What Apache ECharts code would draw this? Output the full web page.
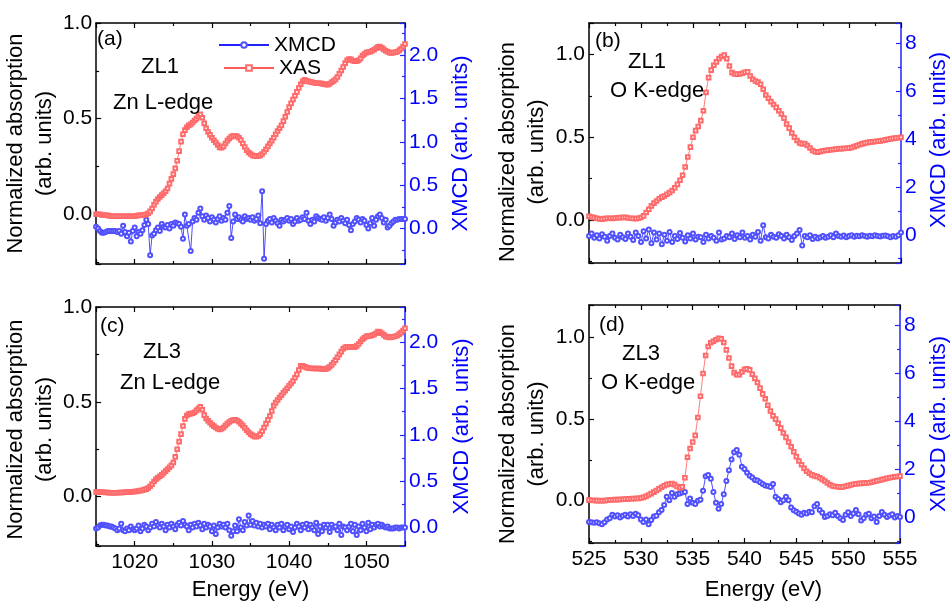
<!DOCTYPE html>
<html>
<head>
<meta charset="utf-8">
<script src="https://cdn.jsdelivr.net/npm/echarts@6/dist/echarts.min.js"></script>
<style>
html,body{margin:0;padding:0;background:#fff;}
#chart{width:951px;height:602px;}
</style>
</head>
<body>
<div id="chart"></div>
<script>
// ---------------- DATA ----------------
function range(a, b, s) { const r = []; const n = Math.round((b - a) / s); for (let i = 0; i <= n; i++) r.push(+(a + i * s).toFixed(2)); return r; }
const energyZn = range(1015, 1055, 0.25);
const energyO = range(525, 555, 0.25);

// (a) ZL1 Zn L-edge
const xasZL1Zn = [
 0.000, 0.000, 0.000, -0.003, -0.005, -0.005, -0.006, -0.008, -0.010, -0.010, -0.010, -0.010, -0.010, -0.010, -0.010, -0.010, -0.010, -0.010, -0.010, -0.010,
 -0.010, -0.008, -0.006, -0.005, -0.005, -0.003, 0.000, 0.005, 0.015, 0.030, 0.050, 0.066, 0.080, 0.090, 0.100, 0.110, 0.120, 0.135, 0.160, 0.185,
 0.210, 0.240, 0.280, 0.330, 0.380, 0.418, 0.440, 0.455, 0.465, 0.470, 0.480, 0.490, 0.500, 0.512, 0.523, 0.505, 0.475, 0.450, 0.430, 0.415,
 0.400, 0.387, 0.375, 0.362, 0.350, 0.348, 0.355, 0.370, 0.385, 0.396, 0.405, 0.410, 0.410, 0.407, 0.400, 0.388, 0.370, 0.352, 0.335, 0.323,
 0.315, 0.308, 0.305, 0.303, 0.305, 0.308, 0.315, 0.327, 0.340, 0.355, 0.370, 0.385, 0.400, 0.418, 0.435, 0.450, 0.465, 0.487, 0.510, 0.535,
 0.560, 0.580, 0.600, 0.620, 0.640, 0.660, 0.680, 0.695, 0.703, 0.698, 0.695, 0.692, 0.690, 0.688, 0.685, 0.685, 0.685, 0.683, 0.680, 0.679,
 0.678, 0.682, 0.690, 0.697, 0.705, 0.718, 0.735, 0.752, 0.770, 0.790, 0.805, 0.812, 0.810, 0.803, 0.800, 0.800, 0.805, 0.815, 0.830, 0.838,
 0.845, 0.848, 0.850, 0.855, 0.860, 0.868, 0.875, 0.877, 0.870, 0.862, 0.855, 0.850, 0.845, 0.844, 0.845, 0.847, 0.850, 0.857, 0.865, 0.877,
 0.890];
const xmcdZL1Zn = [
 0.02, 0.00, -0.03, -0.05, -0.05, -0.04, -0.03, -0.03, -0.03, -0.03, -0.03, -0.04, -0.03, -0.06, 0.03, -0.04, -0.09, -0.05, -0.15, -0.03,
 0.01, -0.09, -0.04, -0.06, -0.02, 0.04, 0.10, 0.05, -0.31, -0.08, -0.06, -0.02, 0.01, -0.03, 0.05, 0.02, 0.01, 0.04, 0.00, 0.05,
 0.03, 0.07, 0.06, 0.05, 0.02, -0.12, 0.16, 0.03, 0.05, -0.26, 0.08, 0.12, 0.10, 0.18, 0.23, 0.14, 0.10, 0.15, 0.12, 0.08,
 0.13, 0.10, 0.07, 0.11, 0.14, 0.09, 0.12, 0.10, 0.18, 0.26, -0.11, 0.08, 0.16, 0.11, 0.13, 0.10, 0.08, 0.14, 0.11, 0.12,
 0.10, 0.13, 0.09, 0.11, 0.15, 0.06, 0.43, -0.35, 0.05, 0.09, 0.11, 0.07, 0.12, 0.09, 0.06, 0.03, 0.10, 0.08, 0.10, 0.12,
 0.09, 0.11, 0.05, 0.08, 0.12, 0.09, 0.10, 0.13, 0.11, 0.18, 0.09, 0.05, 0.10, 0.08, 0.14, 0.12, 0.11, 0.10, 0.13, 0.09,
 0.12, 0.16, 0.11, 0.03, 0.07, 0.10, 0.08, 0.12, 0.09, 0.06, 0.10, 0.04, -0.02, 0.05, 0.08, 0.12, 0.10, 0.07, 0.11, 0.09,
 0.04, 0.00, 0.06, 0.12, 0.03, 0.10, 0.14, 0.16, 0.12, 0.07, 0.10, 0.01, 0.03, 0.06, 0.08, 0.10, 0.10, 0.11, 0.11, 0.11,
 0.11];

// (b) ZL1 O K-edge
const xasZL1O = [
 0.022, 0.018, 0.014, 0.010, 0.006, 0.005, 0.008, 0.010, 0.010, 0.009, 0.012, 0.013, 0.014, 0.015, 0.016, 0.012, 0.010, 0.009, 0.008, 0.010,
 0.015, 0.025, 0.045, 0.065, 0.085, 0.102, 0.115, 0.128, 0.138, 0.145, 0.155, 0.165, 0.178, 0.195, 0.215, 0.24, 0.27, 0.32, 0.38, 0.44,
 0.50, 0.54, 0.565, 0.60, 0.66, 0.77, 0.86, 0.905, 0.935, 0.955, 0.975, 0.988, 0.996, 0.975, 0.93, 0.89, 0.882, 0.88, 0.882, 0.886,
 0.892, 0.895, 0.87, 0.85, 0.84, 0.833, 0.82, 0.79, 0.755, 0.735, 0.715, 0.698, 0.68, 0.66, 0.64, 0.615, 0.58, 0.555, 0.525, 0.50,
 0.48, 0.465, 0.46, 0.462, 0.45, 0.435, 0.42, 0.412, 0.41, 0.414, 0.418, 0.42, 0.422, 0.424, 0.426, 0.428, 0.43, 0.431, 0.432, 0.433,
 0.434, 0.438, 0.443, 0.448, 0.454, 0.46, 0.464, 0.467, 0.47, 0.472, 0.474, 0.476, 0.478, 0.48, 0.484, 0.488, 0.49, 0.493, 0.495, 0.497,
 0.50];
const xmcdZL1O = [
 -0.05, 0.05, -0.12, -0.02, -0.15, 0.02, -0.08, -0.25, -0.05, 0.05, -0.12, -0.2, 0.0, -0.1, -0.18, 0.05, -0.08, -0.22, 0.1, -0.05,
 -0.3, 0.15, -0.15, 0.22, -0.35, 0.1, -0.2, 0.05, -0.4, 0.0, -0.25, 0.12, -0.3, -0.05, -0.18, 0.08, -0.12, -0.28, -0.02, -0.15,
 0.05, -0.2, -0.08, -0.1, -0.3, 0.0, -0.15, -0.05, -0.12, -0.25, 0.1, -0.2, -0.15, -0.05, -0.1, 0.05, -0.18, -0.02, -0.1, 0.1,
 -0.12, -0.05, -0.2, 0.0, -0.08, 0.12, -0.25, 0.4, -0.1, -0.15, 0.0, -0.08, -0.12, 0.02, -0.05, -0.15, 0.0, -0.1, -0.22, -0.05,
 0.05, 0.2, -0.45, -0.05, -0.1, -0.02, -0.18, -0.08, -0.15, -0.1, -0.05, -0.12, -0.08, -0.02, -0.1, 0.05, -0.05, -0.08, -0.03, -0.1,
 -0.05, -0.02, -0.08, -0.04, -0.06, -0.02, -0.05, -0.08, -0.04, -0.06, -0.02, -0.05, -0.07, -0.04, -0.03, -0.06, -0.1, -0.05, -0.08, -0.02,
 0.1];

// (c) ZL3 Zn L-edge
const xasZL3Zn = [
 0.025, 0.024, 0.024, 0.023, 0.023, 0.022, 0.022, 0.021, 0.021, 0.021, 0.021, 0.021, 0.022, 0.022, 0.022, 0.023, 0.024, 0.024, 0.025, 0.026,
 0.027, 0.028, 0.030, 0.032, 0.034, 0.037, 0.040, 0.046, 0.055, 0.066, 0.080, 0.092, 0.100, 0.108, 0.115, 0.125, 0.135, 0.145, 0.155, 0.165,
 0.180, 0.210, 0.250, 0.290, 0.330, 0.373, 0.410, 0.428, 0.435, 0.438, 0.440, 0.445, 0.455, 0.465, 0.474, 0.458, 0.430, 0.412, 0.400, 0.390,
 0.380, 0.372, 0.365, 0.358, 0.355, 0.358, 0.365, 0.375, 0.385, 0.394, 0.400, 0.404, 0.405, 0.402, 0.395, 0.385, 0.375, 0.363, 0.350, 0.340,
 0.330, 0.323, 0.318, 0.316, 0.320, 0.330, 0.345, 0.365, 0.385, 0.405, 0.425, 0.452, 0.480, 0.496, 0.510, 0.523, 0.535, 0.548, 0.560, 0.572,
 0.585, 0.597, 0.610, 0.627, 0.645, 0.668, 0.690, 0.690, 0.685, 0.681, 0.678, 0.677, 0.676, 0.676, 0.676, 0.676, 0.675, 0.674, 0.672, 0.673,
 0.678, 0.685, 0.695, 0.707, 0.720, 0.735, 0.750, 0.765, 0.780, 0.787, 0.790, 0.790, 0.790, 0.789, 0.788, 0.795, 0.805, 0.818, 0.830, 0.838,
 0.845, 0.847, 0.848, 0.851, 0.855, 0.862, 0.870, 0.868, 0.862, 0.853, 0.845, 0.842, 0.840, 0.841, 0.843, 0.846, 0.850, 0.857, 0.865, 0.876,
 0.888];
const xmcdZL3Zn = [
 -0.01, 0.00, 0.02, 0.03, 0.03, 0.02, 0.02, 0.01, 0.01, 0.00, -0.01, -0.03, -0.01, 0.04, -0.03, -0.04, -0.01, -0.03, 0.01, -0.02,
 -0.03, -0.01, 0.02, -0.04, -0.01, 0.03, 0.01, -0.03, 0.00, 0.04, 0.01, 0.06, 0.02, 0.00, 0.04, 0.01, -0.03, 0.03, 0.00, 0.04,
 0.01, -0.02, 0.03, 0.05, 0.02, 0.07, 0.03, 0.01, -0.03, 0.03, 0.00, 0.04, 0.01, 0.05, 0.02, -0.02, 0.04, 0.00, 0.03, 0.01,
 -0.04, 0.02, -0.07, 0.00, 0.04, 0.01, 0.03, 0.00, 0.04, -0.03, -0.09, -0.04, 0.02, -0.04, 0.09, 0.00, -0.03, 0.06, 0.02, 0.13,
 0.03, 0.07, 0.02, 0.05, 0.01, 0.04, 0.00, 0.03, 0.01, 0.04, -0.02, 0.03, 0.00, -0.03, 0.03, 0.00, 0.04, -0.03, 0.01, 0.03,
 -0.02, 0.01, -0.05, 0.00, 0.04, 0.01, -0.03, 0.03, 0.00, 0.04, -0.02, 0.03, 0.00, -0.03, 0.05, -0.07, 0.01, -0.04, 0.03, 0.00,
 0.03, -0.05, 0.03, 0.00, 0.01, -0.03, 0.04, -0.08, 0.01, 0.00, -0.03, 0.01, 0.04, -0.04, 0.03, -0.08, 0.01, -0.03, 0.04, 0.00,
 -0.04, 0.05, -0.02, 0.03, 0.00, 0.03, 0.04, 0.01, 0.03, 0.01, 0.00, 0.01, -0.01, -0.01, -0.01, 0.00, 0.00, -0.01, 0.00, 0.00,
 0.00];

// (d) ZL3 O K-edge
const xasZL3O = [
 0.003, 0.002, 0.001, 0.000, 0.000, -0.001, 0.000, 0.002, 0.004, 0.005, 0.006, 0.006, 0.007, 0.008, 0.009, 0.010, 0.011, 0.012, 0.013, 0.014,
 0.016, 0.020, 0.026, 0.034, 0.043, 0.052, 0.062, 0.072, 0.082, 0.091, 0.098, 0.102, 0.104, 0.098, 0.087, 0.078, 0.085, 0.14, 0.266, 0.32,
 0.36, 0.40, 0.51, 0.64, 0.78, 0.89, 0.945, 0.968, 0.978, 0.987, 0.995, 0.993, 0.97, 0.925, 0.875, 0.825, 0.785, 0.772, 0.773, 0.79,
 0.805, 0.808, 0.802, 0.775, 0.75, 0.725, 0.69, 0.655, 0.625, 0.585, 0.55, 0.52, 0.50, 0.475, 0.445, 0.415, 0.388, 0.36, 0.33, 0.30,
 0.27, 0.243, 0.22, 0.198, 0.18, 0.168, 0.158, 0.152, 0.148, 0.14, 0.13, 0.12, 0.108, 0.097, 0.09, 0.087, 0.085, 0.083, 0.084, 0.088,
 0.092, 0.096, 0.1, 0.103, 0.105, 0.106, 0.108, 0.109, 0.11, 0.113, 0.117, 0.121, 0.125, 0.129, 0.133, 0.137, 0.14, 0.143, 0.146, 0.148,
 0.15];
const xmcdZL3O = [
 -0.2, -0.22, -0.24, -0.22, -0.26, -0.3, -0.22, -0.1, -0.05, 0.1, 0.02, 0.08, -0.02, 0.06, 0.1, 0.02, 0.12, 0.05, 0.14, 0.08,
 -0.1, -0.2, -0.1, -0.3, -0.12, 0.02, 0.06, 0.2, 0.3, 0.5, 0.85, 0.7, 1.0, 0.85, 0.95, 0.98, 1.02, 1.05, 0.55, 0.78,
 0.6, 0.55, 0.68, 0.72, 1.1, 1.7, 1.75, 1.6, 1.05, 0.6, 0.35, 0.55, 0.95, 1.5, 1.95, 2.4, 2.7, 2.8, 2.6, 2.1,
 2.0, 1.85, 1.72, 1.65, 1.55, 1.52, 1.45, 1.38, 1.32, 1.3, 1.25, 1.38, 0.85, 0.75, 0.62, 0.7, 0.85, 0.7, 0.4, 0.28,
 0.22, 0.15, 0.1, 0.18, 0.15, 0.22, 0.2, 0.45, 0.55, 0.3, 0.18, 0.0, 0.05, 0.12, 0.08, 0.18, 0.05, -0.05, -0.12, 0.1,
 0.2, 0.05, 0.15, 0.3, 0.12, -0.14, -0.05, 0.1, 0.14, -0.05, 0.02, -0.2, 0.05, 0.21, 0.1, 0.0, 0.07, 0.12, -0.02, 0.05,
 0.0];

const panelLabels = ['(a)', '(b)', '(c)', '(d)'];
const sampleLabels = ['ZL1', 'ZL1', 'ZL3', 'ZL3'];
const edgeLabels = ['Zn L-edge', 'O K-edge', 'Zn L-edge', 'O K-edge'];
const leftAxisName = 'Normalized absorption\n(arb. units)';
const rightAxisName = 'XMCD (arb. units)';
const xAxisName = 'Energy (eV)';

// ---------------- CHART ----------------
const FONT = "'Liberation Sans', Arial, Helvetica, sans-serif";
const RED = '#ff5a5a';
const BLUE = '#2222ff';
const BLUE_TXT = '#0000ff';

function pair(xs, ys) { return xs.map((x, i) => [x, ys[i]]); }
function multFmt(step, digits) {
  return function (v) {
    const k = v / step;
    return Math.abs(k - Math.round(k)) < 1e-6 ? v.toFixed(digits) : '';
  };
}

const panels = [
  { grid: { left: 91, top: 23, width: 314, height: 241 }, xr: [1015, 1055], xSplit: 4, xStep: 10, xLabels: false,
    yl: [-0.26, 1.0], ylSplit: 3, yr: [-0.41, 2.37], yrSplit: 6, yrStep: 0.5, yrDig: 1,
    lGap: 33, lPad: [0, 0, 0, 0], rGap: 45, rPad: [0, 0, 0, 0],
    xas: pair(energyZn, xasZL1Zn), xmcd: pair(energyZn, xmcdZL1Zn),
    txt: [[97, 39], [141, 67], [113, 103]] },
  { grid: { left: 589, top: 23, width: 314, height: 240 }, xr: [525, 555], xSplit: 6, xStep: 5, xLabels: false,
    yl: [-0.26, 1.19], ylSplit: 3, yr: [-1.18, 8.86], yrSplit: 5, yrStep: 2, yrDig: 0,
    lGap: 37, lPad: [0, 18, 0, 0], rGap: 27, rPad: [0, 0, 0, 6],
    xas: pair(energyO, xasZL1O), xmcd: pair(energyO, xmcdZL1O),
    txt: [[595, 41], [628, 62], [610, 91]] },
  { grid: { left: 91, top: 307, width: 314, height: 240 }, xr: [1015, 1055], xSplit: 4, xStep: 10, xLabels: true,
    yl: [-0.26, 1.0], ylSplit: 3, yr: [-0.2, 2.38], yrSplit: 6, yrStep: 0.5, yrDig: 1,
    lGap: 33, lPad: [0, 6, 0, 0], rGap: 46, rPad: [0, 0, 0, 0], xGap: 33, xPad: [0, 0, 0, 0],
    xas: pair(energyZn, xasZL3Zn), xmcd: pair(energyZn, xmcdZL3Zn),
    txt: [[100, 326], [143, 352], [120, 383]] },
  { grid: { left: 589, top: 305, width: 314, height: 239 }, xr: [525, 555], xSplit: 6, xStep: 5, xLabels: true,
    yl: [-0.26, 1.2], ylSplit: 3, yr: [-1.08, 8.84], yrSplit: 5, yrStep: 2, yrDig: 0,
    lGap: 37, lPad: [0, 20, 0, 0], rGap: 28, rPad: [0, 0, 0, 0], xGap: 36, xPad: [0, 0, 0, 38],
    xas: pair(energyO, xasZL3O), xmcd: pair(energyO, xmcdZL3O),
    txt: [[599, 325], [622, 354], [601, 383]] }
];

const tickBlack = { inside: true, length: 5, lineStyle: { color: '#000', width: 1.2 } };
const minorBlack = { show: true, splitNumber: 2, length: 3, lineStyle: { color: '#000', width: 1.2 } };
const tickBlue = { inside: true, length: 5, lineStyle: { color: BLUE, width: 1.2 } };
const minorBlue = { show: true, splitNumber: 2, length: 3, lineStyle: { color: BLUE, width: 1.2 } };

const grids = [], xAxes = [], yAxes = [], series = [], graphics = [];

panels.forEach((p, i) => {
  grids.push(Object.assign({ containLabel: false }, p.grid));
  xAxes.push({
    type: 'value', gridIndex: i, position: 'bottom', min: p.xr[0], max: p.xr[1], splitNumber: p.xSplit,
    axisLine: { onZero: false, lineStyle: { color: '#000', width: 1.5 } },
    axisTick: tickBlack, minorTick: minorBlack, splitLine: { show: false },
    axisLabel: { show: p.xLabels, formatter: multFmt(p.xStep, 0), fontSize: 21, color: '#000', fontFamily: FONT, margin: 6 },
    name: p.xLabels ? xAxisName : '', nameLocation: 'middle', nameGap: p.xGap || 30,
    nameTextStyle: { fontSize: 22, color: '#000', fontFamily: FONT, padding: p.xPad || 0 }
  });
  xAxes.push({
    type: 'value', gridIndex: i, position: 'top', min: p.xr[0], max: p.xr[1], splitNumber: p.xSplit,
    axisLine: { onZero: false, lineStyle: { color: '#000', width: 1.5 } },
    axisTick: tickBlack, minorTick: minorBlack, splitLine: { show: false }, axisLabel: { show: false }
  });
  yAxes.push({
    type: 'value', gridIndex: i, position: 'left', min: p.yl[0], max: p.yl[1], splitNumber: p.ylSplit,
    axisLine: { show: true, onZero: false, lineStyle: { color: '#000', width: 1.5 } },
    axisTick: tickBlack, minorTick: minorBlack, splitLine: { show: false },
    axisLabel: { formatter: multFmt(0.5, 1), fontSize: 21, color: '#000', fontFamily: FONT, margin: 4 },
    name: leftAxisName, nameLocation: 'middle', nameRotate: 90, nameGap: p.lGap,
    nameTextStyle: { fontSize: 22, lineHeight: 29, color: '#000', fontFamily: FONT, align: 'center', padding: p.lPad }
  });
  yAxes.push({
    type: 'value', gridIndex: i, position: 'right', min: p.yr[0], max: p.yr[1], splitNumber: p.yrSplit,
    axisLine: { show: true, onZero: false, lineStyle: { color: BLUE, width: 1.5 } },
    axisTick: tickBlue, minorTick: minorBlue, splitLine: { show: false },
    axisLabel: { formatter: multFmt(p.yrStep, p.yrDig), fontSize: 21, color: BLUE_TXT, fontFamily: FONT, margin: 4 },
    name: rightAxisName, nameLocation: 'middle', nameRotate: 90, nameGap: p.rGap,
    nameTextStyle: { fontSize: 22, color: BLUE_TXT, fontFamily: FONT, padding: p.rPad }
  });
  series.push({
    type: 'line', name: 'XMCD', xAxisIndex: 2 * i, yAxisIndex: 2 * i + 1, data: p.xmcd,
    symbol: 'emptyCircle', symbolSize: 4, showAllSymbol: true,
    lineStyle: { color: BLUE, width: 0.8 }, itemStyle: { color: '#5050ff', borderWidth: 0.6 }, z: 2
  });
  series.push({
    type: 'line', name: 'XAS', xAxisIndex: 2 * i, yAxisIndex: 2 * i, data: p.xas,
    symbol: 'emptyRect', symbolSize: 3.6, showAllSymbol: true,
    lineStyle: { color: RED, width: 0.8 }, itemStyle: { color: '#ff6a6a', borderWidth: 0.6 }, z: 3
  });
  const texts = [panelLabels[i], sampleLabels[i], edgeLabels[i]];
  texts.forEach((t, k) => {
    graphics.push({
      type: 'text', x: p.txt[k][0], y: p.txt[k][1], z: 10,
      style: { text: t, font: (k === 0 ? '21px ' : '22px ') + FONT, fill: '#000', verticalAlign: 'middle', align: 'left' }
    });
  });
});

const legendText = { fontSize: 21, color: '#000', fontFamily: FONT, lineHeight: 22 };
const option = {
  backgroundColor: '#fff',
  animation: false,
  grid: grids,
  xAxis: xAxes,
  yAxis: yAxes,
  series: series,
  legend: [
    { data: ['XMCD'], left: 218, top: 34, padding: 0, itemWidth: 50, itemHeight: 7, textStyle: legendText, selectedMode: false },
    { data: ['XAS'], left: 223, top: 57, padding: 0, itemWidth: 50, itemHeight: 7, textStyle: legendText, selectedMode: false }
  ],
  graphic: graphics
};

const chart = echarts.init(document.getElementById('chart'), null, { renderer: 'canvas' });
chart.setOption(option);
</script>
</body>
</html>
